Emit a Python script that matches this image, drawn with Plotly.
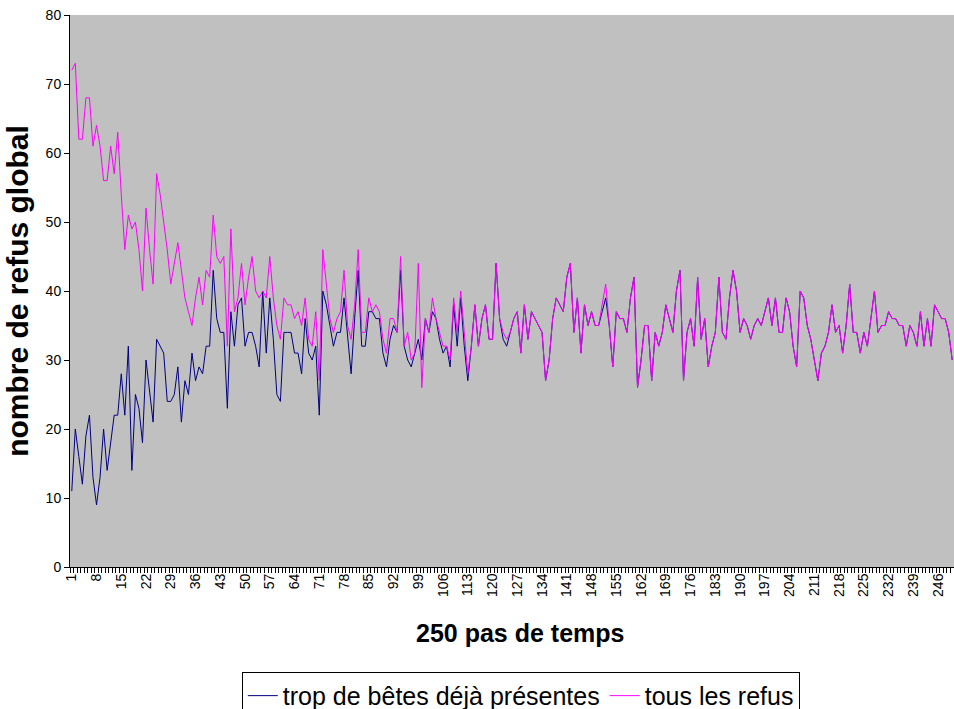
"""
Refus global sur 250 pas de temps
"""
import plotly.graph_objects as go

# pas de temps 1..250
steps = list(range(1, 251))

# tous les refus (magenta)
tous_les_refus = [
    72, 73, 62, 62, 68, 68, 61, 64, 61, 56, 56, 61, 57, 63, 54, 46, 51, 49, 50, 46,
    40, 52, 46, 41, 57, 54, 50, 46, 41, 44, 47, 43, 39, 37, 35, 39, 42, 38, 43, 42,
    51, 45, 44, 45, 32, 49, 37, 39, 44, 38, 42, 45, 40, 39, 40, 39, 45, 39, 35, 33,
    39, 38, 38, 36, 37, 35, 39, 33, 32, 37, 27, 46, 41, 36, 34, 36, 37, 43, 35, 33,
    38, 46, 34, 34, 39, 37, 38, 37, 33, 31, 36, 36, 34, 45, 32, 34, 30, 31, 44, 26,
    36, 34, 39, 36, 34, 32, 32, 30, 39, 34, 40, 34, 28, 32, 38, 32, 36, 38, 33, 33,
    44, 36, 34, 33, 34, 36, 37, 31, 38, 33, 37, 36, 35, 34, 27, 30, 36, 39, 38, 37,
    42, 44, 34, 39, 31, 38, 35, 37, 35, 35, 38, 41, 35, 29, 37, 36, 36, 34, 39, 42,
    26, 30, 35, 35, 27, 34, 32, 34, 38, 36, 34, 40, 43, 27, 34, 36, 32, 42, 33, 36,
    29, 32, 34, 42, 34, 33, 39, 43, 40, 34, 36, 35, 33, 35, 36, 35, 37, 39, 35, 39,
    34, 34, 39, 37, 32, 29, 40, 39, 35, 33, 30, 27, 31, 32, 34, 38, 34, 35, 31, 35,
    41, 34, 34, 31, 34, 32, 36, 40, 34, 35, 35, 37, 36, 36, 35, 35, 32, 35, 34, 32,
    37, 32, 36, 32, 38, 37, 36, 36, 34, 30,
]

# trop de betes deja presentes (bleu marine)
trop_de_betes = [
    11, 20, 16, 12, 19, 22, 13, 9, 13, 20, 14, 18, 22, 22, 28, 22, 32, 14, 25, 23,
    18, 30, 25, 21, 33, 32, 31, 24, 24, 25, 29, 21, 27, 25, 31, 27, 29, 28, 32, 32,
    43, 36, 34, 34, 23, 37, 32, 38, 39, 32, 34, 34, 32, 29, 40, 31, 39, 33, 25, 24,
    34, 34, 34, 31, 31, 28, 36, 31, 30, 32, 22, 40, 38, 35, 32, 34, 34, 39, 33, 28,
    36, 43, 32, 32, 37, 37, 36, 36, 31, 29, 33, 35, 34, 43, 32, 30, 29, 31, 33, 30,
    36, 34, 37, 36, 33, 31, 32, 29, 38, 32, 39, 32, 27, 32, 38, 32, 36, 38, 33, 33,
    44, 36, 33, 32, 34, 36, 37, 31, 38, 33, 37, 36, 35, 34, 27, 30, 36, 39, 38, 37,
    42, 44, 34, 39, 31, 38, 35, 37, 35, 35, 37, 39, 35, 29, 37, 36, 36, 34, 39, 42,
    26, 30, 35, 35, 27, 34, 32, 34, 38, 36, 34, 40, 43, 27, 34, 36, 32, 42, 33, 36,
    29, 32, 34, 42, 34, 33, 39, 43, 40, 34, 36, 35, 33, 35, 36, 35, 37, 39, 35, 39,
    34, 34, 39, 37, 32, 29, 40, 39, 35, 33, 30, 27, 31, 32, 34, 38, 34, 35, 31, 35,
    41, 34, 34, 31, 34, 32, 36, 40, 34, 35, 35, 37, 36, 36, 35, 35, 32, 35, 34, 32,
    37, 32, 36, 32, 38, 37, 36, 36, 34, 30,
]

x_tick_labels = [1, 8, 15, 22, 29, 36, 43, 50, 57, 64, 71, 78, 85, 92, 99, 106,
                 113, 120, 127, 134, 141, 148, 155, 162, 169, 176, 183, 190, 197,
                 204, 211, 218, 225, 232, 239, 246]
y_ticks = [0, 10, 20, 30, 40, 50, 60, 70, 80]

fig = go.Figure()

fig.add_trace(go.Scatter(
    x=steps, y=trop_de_betes, mode='lines',
    name='trop de bêtes déjà présentes',
    line=dict(color='#000080', width=1)
))
fig.add_trace(go.Scatter(
    x=steps, y=tous_les_refus, mode='lines',
    name='tous les refus',
    line=dict(color='#FF00FF', width=1)
))

fig.update_layout(
    width=954, height=709,
    margin=dict(l=70, r=0, t=15, b=142, autoexpand=False),
    plot_bgcolor='#C0C0C0',
    paper_bgcolor='white',
    font=dict(family='Arial, Liberation Sans', color='black'),
    legend=dict(
        orientation='h', x=0.51, xanchor='center', y=-0.19, yanchor='top',
        bordercolor='black', borderwidth=1, bgcolor='white',
        font=dict(size=25)
    ),
    xaxis=dict(
        range=[0.5, 250.5],
        tickmode='array', tickvals=x_tick_labels,
        ticktext=[str(v) for v in x_tick_labels],
        tickangle=-90, tickfont=dict(size=14),
        ticks='', showgrid=False, zeroline=False,
        showline=True, linecolor='black', linewidth=1,
        minor=dict(ticks='outside', tickmode='linear', tick0=0.5, dtick=1,
                   ticklen=5, tickcolor='black', showgrid=False),
    ),
    yaxis=dict(
        range=[0, 80], tickmode='array', tickvals=y_ticks,
        ticks='outside', ticklen=5, tickcolor='black',
        tickfont=dict(size=14), showgrid=False, zeroline=False,
        showline=True, linecolor='black', linewidth=1,
        title=dict(text='<b>nombre de refus global</b>', font=dict(size=30), standoff=8)
    ),
)

# x title placed as annotation (sits slightly right of the plot centre)
fig.add_annotation(
    text='<b>250 pas de temps</b>', xref='paper', yref='paper',
    x=0.509, y=-0.12, xanchor='center', yanchor='middle',
    showarrow=False, font=dict(size=25)
)

# the page's default body margin would shift the figure by 8px
fig.write_html("out.html", config={'displayModeBar': False},
               post_script="document.body.style.margin = '0';")
